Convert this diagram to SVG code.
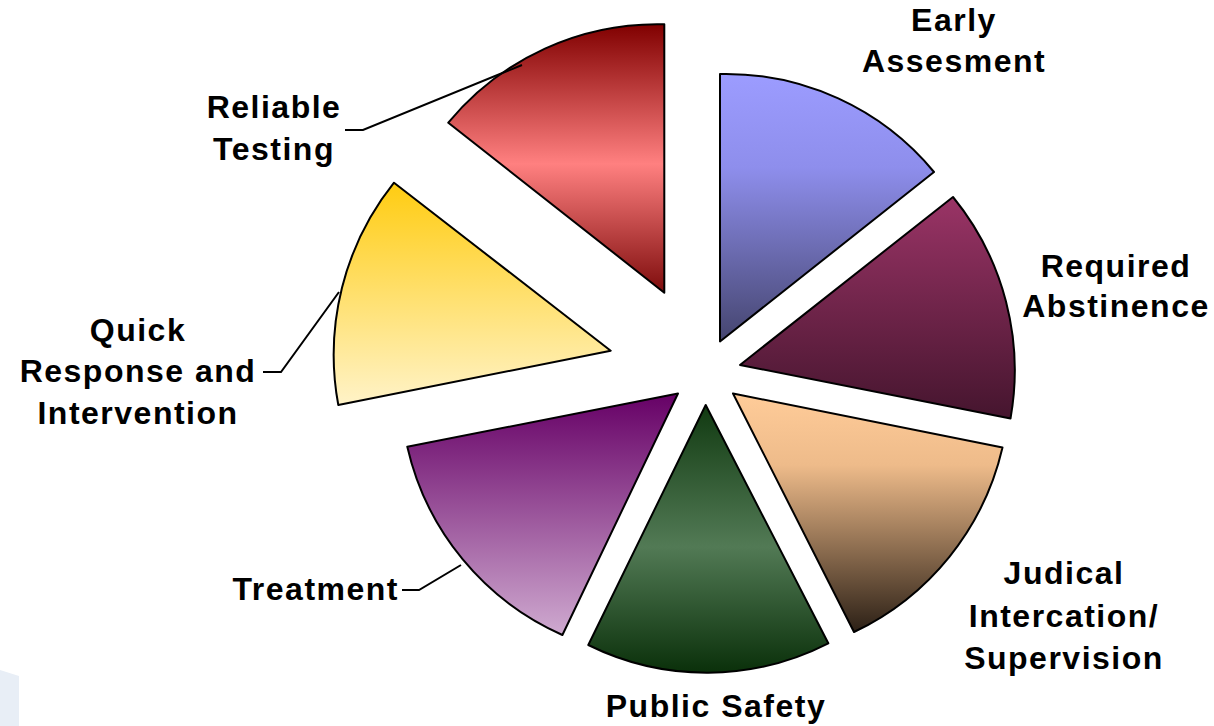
<svg xmlns="http://www.w3.org/2000/svg" width="1214" height="726" viewBox="0 0 1214 726">
  <style>
    .wedge { stroke: #000; stroke-width: 2; stroke-linejoin: round; }
    .lbl { font-family: "Liberation Sans", Arial, sans-serif; font-weight: bold; font-size: 32px; letter-spacing: 1.5px; fill: #000; text-anchor: middle; }
    .lead { fill: none; stroke: #000; stroke-width: 2; }
  </style>
  <defs>
    <linearGradient id="gBlue" x1="0" y1="0" x2="0" y2="1">
      <stop offset="0" stop-color="#9c9cff"/>
      <stop offset="0.35" stop-color="#8e8eec"/>
      <stop offset="1" stop-color="#45456f"/>
    </linearGradient>
    <linearGradient id="gMaroon" x1="0" y1="0" x2="0" y2="1">
      <stop offset="0" stop-color="#9a3466"/>
      <stop offset="1" stop-color="#45152e"/>
    </linearGradient>
    <linearGradient id="gTan" x1="0" y1="0" x2="0" y2="1">
      <stop offset="0" stop-color="#ffcc99"/>
      <stop offset="0.3" stop-color="#eebb8a"/>
      <stop offset="1" stop-color="#2c2016"/>
    </linearGradient>
    <linearGradient id="gGreen" x1="0" y1="0" x2="0" y2="1">
      <stop offset="0" stop-color="#113a11"/>
      <stop offset="0.53" stop-color="#527a55"/>
      <stop offset="1" stop-color="#0a300a"/>
    </linearGradient>
    <linearGradient id="gPurple" x1="0" y1="0" x2="0" y2="1">
      <stop offset="0" stop-color="#660066"/>
      <stop offset="1" stop-color="#cfaad0"/>
    </linearGradient>
    <linearGradient id="gYellow" x1="0" y1="0" x2="0" y2="1">
      <stop offset="0" stop-color="#ffcc11"/>
      <stop offset="1" stop-color="#fff3c8"/>
    </linearGradient>
    <linearGradient id="gRed" x1="0" y1="0" x2="0" y2="1">
      <stop offset="0" stop-color="#800000"/>
      <stop offset="0.52" stop-color="#ff8080"/>
      <stop offset="1" stop-color="#7e0c0c"/>
    </linearGradient>
  </defs>

  <rect x="0" y="0" width="1214" height="726" fill="#ffffff"/>
  <polygon points="0,670 19,676 19,726 0,726" fill="#e8eef6"/>

  <g id="early-assesment">
    <path class="wedge" fill="url(#gBlue)" d="M720,341.5 L720,74 A270,270 0 0 1 934,172 Z"/>
    <text class="lbl" x="954" y="31">Early</text>
    <text class="lbl" x="954" y="72">Assesment</text>
  </g>

  <g id="required-abstinence">
    <path class="wedge" fill="url(#gMaroon)" d="M740,365 L953,197 A274,274 0 0 1 1010.5,418.5 Z"/>
    <text class="lbl" x="1116" y="277">Required</text>
    <text class="lbl" x="1116" y="317">Abstinence</text>
  </g>

  <g id="judical-intercation-supervision">
    <path class="wedge" fill="url(#gTan)" d="M733,393.5 L1002.5,447.5 A272,272 0 0 1 854,632 Z"/>
    <text class="lbl" x="1064" y="584">Judical</text>
    <text class="lbl" x="1064" y="627">Intercation/</text>
    <text class="lbl" x="1064" y="669">Supervision</text>
  </g>

  <g id="public-safety">
    <path class="wedge" fill="url(#gGreen)" d="M705.7,405 L828.3,643.3 A267,267 0 0 1 588.3,645 Z"/>
    <text class="lbl" x="716" y="717">Public Safety</text>
  </g>

  <g id="treatment">
    <path class="wedge" fill="url(#gPurple)" d="M678,393.5 L562.4,635 A272,272 0 0 1 407.3,446.7 Z"/>
    <text class="lbl" x="399" y="600" style="text-anchor:end">Treatment</text>
  </g>

  <g id="quick-response">
    <path class="wedge" fill="url(#gYellow)" d="M610.7,350.7 L338.3,405 A276,276 0 0 1 394,182.7 Z"/>
    <text class="lbl" x="138" y="341">Quick</text>
    <text class="lbl" x="138" y="382">Response and</text>
    <text class="lbl" x="138" y="424">Intervention</text>
  </g>

  <g id="reliable-testing">
    <path class="wedge" fill="url(#gRed)" d="M664.3,292.7 L448.3,122.7 A271,271 0 0 1 664.3,24.3 Z"/>
    <text class="lbl" x="274" y="118">Reliable</text>
    <text class="lbl" x="274" y="160">Testing</text>
  </g>

  <g id="connectors">
    <polyline class="lead" points="345,130 363,130 522,65"/>
    <polyline class="lead" points="263,372 281,372 339,292"/>
    <polyline class="lead" points="402,590 419,590 461,565"/>
  </g>
</svg>
